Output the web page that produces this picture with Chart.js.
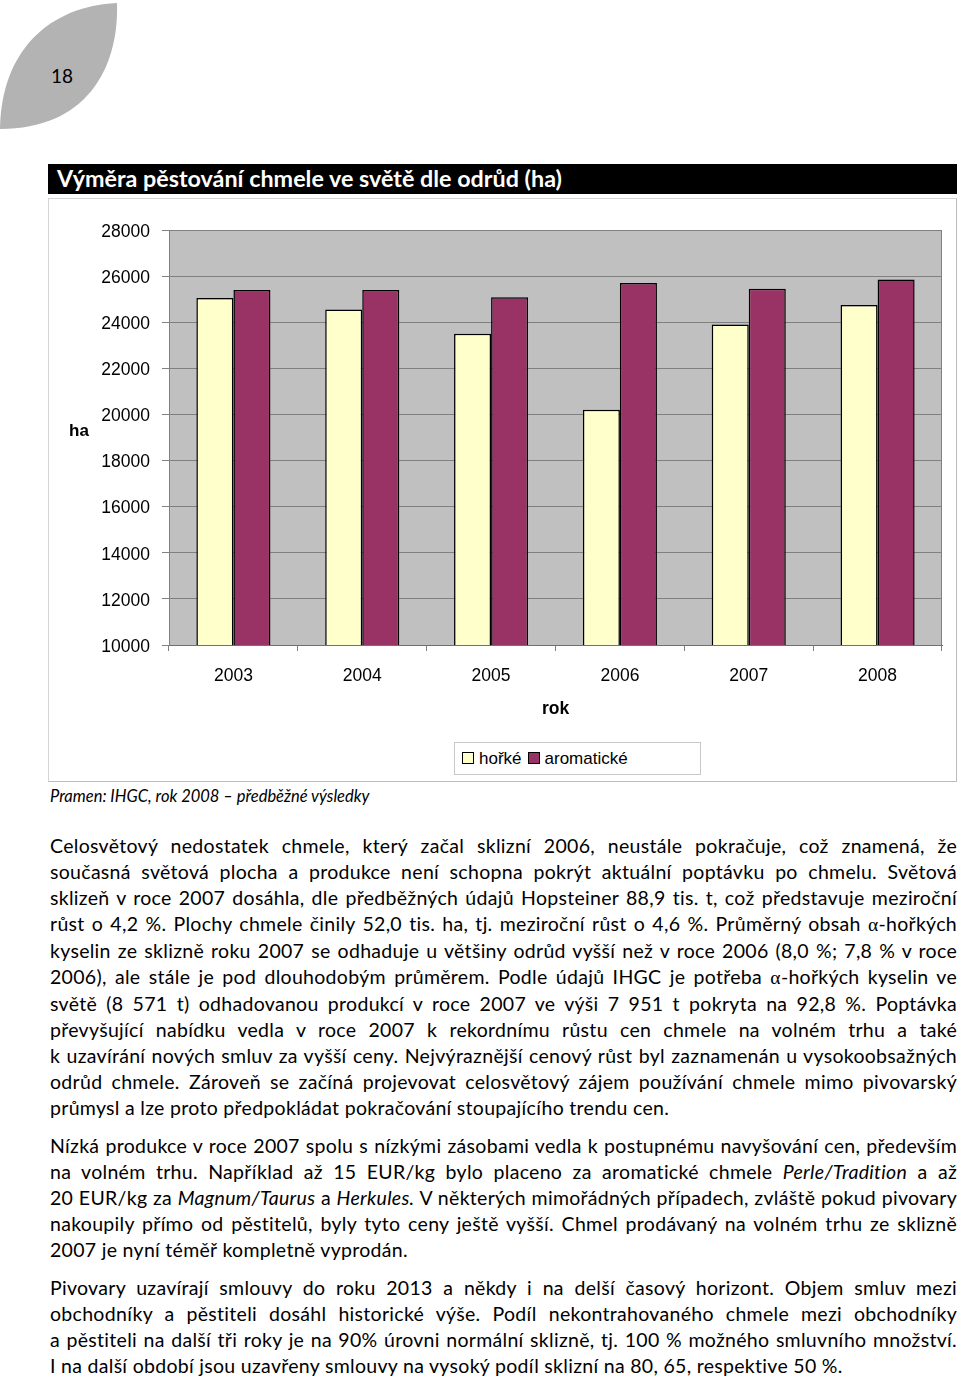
<!DOCTYPE html>
<html>
<head>
    <meta charset="utf-8">
    <title>Výměra pěstování chmele</title>
    <script src="https://cdn.jsdelivr.net/npm/chart.js@4.4.0/dist/chart.umd.min.js"></script>
    <style>
        body {
            margin: 0;
            width: 960px;
            height: 1379px;
            position: relative;
            background: #fff;
            font-family: Lato, "Open Sans", sans-serif;
            color: #000;
        }
        .leaf { position: absolute; left: 0; top: 0; }
        .page-no {
            position: absolute; left: 51px; top: 64px; width: 22px;
            font-size: 19px; text-align: center;
        }
        .title-bar {
            position: absolute; left: 48px; top: 164px; width: 909px; height: 30px;
            background: #000; color: #fff;
        }
        .title-bar span {
            position: absolute; left: 9px; top: 0px;
            font-size: 23px; font-weight: bold; white-space: nowrap; transform-origin: 0 50%;
        }
        .frame {
            position: absolute; left: 48px; top: 198px; width: 907px; height: 582px;
            border: 1px solid #d4d4d4;
            border-right-color: #bdbdbd; border-bottom-color: #bdbdbd;
        }
        #hopChart { position: absolute; left: 0; top: 0; }
        .ha {
            position: absolute; left: 20px; top: 222px;
            font: bold 17px "Liberation Sans", Arial, sans-serif;
        }
        .legend {
            position: absolute; left: 405px; top: 543px; width: 247px; height: 33px;
            border: 1px solid #c8c8c8; background: #fff;
            font: 17px "Liberation Sans", Arial, sans-serif;
            display: flex; align-items: center; padding-left: 7px; box-sizing: border-box;
        }
        .legend i {
            display: inline-block; width: 10px; height: 10px; border: 1px solid #000;
            margin-right: 5px; margin-top: -2px; vertical-align: middle;
        }
        .legend .item { margin-right: 6px; white-space: nowrap; }
        .source {
            position: absolute; left: 50px; top: 786px;
            font-size: 16.5px; font-style: italic; white-space: nowrap;
        }
        .text {
            position: absolute; left: 50px; top: 833px; width: 907px;
            font-size: 19.5px; line-height: 26px; letter-spacing: 0.3px;
        }
        .text .l { white-space: nowrap; text-align: left; }
        .text .j { text-align: justify; text-align-last: justify; }
        .text .gap { margin-bottom: 12px; }
        .a { font-family: "Liberation Serif", serif; }
    </style>
</head>
<body>
    <svg class="leaf" width="130" height="135">
        <path d="M0,129 C1,50 50,6 117,3 C119,70 85,129 0,129 Z" fill="#b3b3b3"/>
    </svg>
    <div class="page-no">18</div>

    <div class="title-bar"><span id="titleText">Výměra pěstování chmele ve světě dle odrůd (ha)</span></div>

    <div class="frame">
        <canvas id="hopChart" width="907" height="582"></canvas>
        <div class="ha">ha</div>
        <div class="legend" id="legend"></div>
    </div>

    <div class="source">Pramen: IHGC, rok 2008 – předběžné výsledky</div>

    <div class="text">
        <div class="l j">Celosvětový nedostatek chmele, který začal sklizní 2006, neustále pokračuje, což znamená, že</div>
        <div class="l j">současná světová plocha a produkce není schopna pokrýt aktuální poptávku po chmelu. Světová</div>
        <div class="l j">sklizeň v roce 2007 dosáhla, dle předběžných údajů Hopsteiner 88,9 tis. t, což představuje meziroční</div>
        <div class="l j">růst o 4,2 %. Plochy chmele činily 52,0 tis. ha, tj. meziroční růst o 4,6 %. Průměrný obsah <span class="a">α</span>-hořkých</div>
        <div class="l j">kyselin ze sklizně roku 2007 se odhaduje u většiny odrůd vyšší než v roce 2006 (8,0 %; 7,8 % v roce</div>
        <div class="l j">2006), ale stále je pod dlouhodobým průměrem. Podle údajů IHGC je potřeba <span class="a">α</span>-hořkých kyselin ve</div>
        <div class="l j">světě (8 571 t) odhadovanou produkcí v roce 2007 ve výši 7 951 t pokryta na 92,8 %. Poptávka</div>
        <div class="l j">převyšující nabídku vedla v roce 2007 k rekordnímu růstu cen chmele na volném trhu a také</div>
        <div class="l j">k uzavírání nových smluv za vyšší ceny. Nejvýraznější cenový růst byl zaznamenán u vysokoobsažných</div>
        <div class="l j">odrůd chmele. Zároveň se začíná projevovat celosvětový zájem používání chmele mimo pivovarský</div>
        <div class="l gap">průmysl a lze proto předpokládat pokračování stoupajícího trendu cen.</div>

        <div class="l j">Nízká produkce v roce 2007 spolu s nízkými zásobami vedla k postupnému navyšování cen, především</div>
        <div class="l j">na volném trhu. Například až 15 EUR/kg bylo placeno za aromatické chmele <i>Perle/Tradition</i> a až</div>
        <div class="l j">20 EUR/kg za <i>Magnum/Taurus</i> a <i>Herkules.</i> V některých mimořádných případech, zvláště pokud pivovary</div>
        <div class="l j">nakoupily přímo od pěstitelů, byly tyto ceny ještě vyšší. Chmel prodávaný na volném trhu ze sklizně</div>
        <div class="l gap">2007 je nyní téměř kompletně vyprodán.</div>

        <div class="l j">Pivovary uzavírají smlouvy do roku 2013 a někdy i na delší časový horizont. Objem smluv mezi</div>
        <div class="l j">obchodníky a pěstiteli dosáhl historické výše. Podíl nekontrahovaného chmele mezi obchodníky</div>
        <div class="l j">a pěstiteli na další tři roky je na 90% úrovni normální sklizně, tj. 100 % možného smluvního množství.</div>
        <div class="l">I na další období jsou uzavřeny smlouvy na vysoký podíl sklizní na 80, 65, respektive 50 %.</div>
    </div>

    <script>
    // hodnoty (ha)
    const years = ['2003', '2004', '2005', '2006', '2007', '2008'];
    const horke = [25050, 24550, 23500, 20200, 23900, 24750];
    const aromaticke = [25400, 25400, 25080, 25700, 25450, 25850];
    const seriesNames = ['hořké', 'aromatické'];
    const seriesColors = ['#ffffcc', '#993366'];
    const yMin = 10000, yMax = 28000, yStep = 2000;

    Chart.defaults.font.family = 'Liberation Sans, Arial, sans-serif';
    const axisFont = { family: 'Liberation Sans, Arial, sans-serif', size: 17.5 };

    // titulek zúžit na šířku jako v předloze
    const titleEl = document.getElementById('titleText');
    titleEl.style.transform = 'scaleX(' + (505 / titleEl.getBoundingClientRect().width) + ')';

    // šedé pozadí plochy grafu
    const plotBackground = {
        id: 'plotBackground',
        beforeDraw(chart) {
            const { ctx, chartArea: a } = chart;
            ctx.save();
            ctx.fillStyle = '#c0c0c0';
            ctx.fillRect(a.left, a.top, a.right - a.left, a.bottom - a.top);
            ctx.strokeStyle = '#808080';
            ctx.lineWidth = 1;
            ctx.strokeRect(a.left + 0.5, a.top + 0.5, a.right - a.left - 1, a.bottom - a.top);
            ctx.restore();
        }
    };

    const ctx = document.getElementById('hopChart').getContext('2d');
    new Chart(ctx, {
        type: 'bar',
        data: {
            labels: years,
            datasets: [
                {
                    label: seriesNames[0],
                    data: horke,
                    backgroundColor: seriesColors[0],
                    borderColor: '#000',
                    borderWidth: 1.5
                },
                {
                    label: seriesNames[1],
                    data: aromaticke,
                    backgroundColor: seriesColors[1],
                    borderColor: '#000',
                    borderWidth: 1.5
                }
            ]
        },
        options: {
            responsive: false,
            animation: false,
            devicePixelRatio: 1,
            categoryPercentage: 0.575,
            barPercentage: 1,
            layout: { padding: { left: 0, right: 14, top: 31, bottom: 56 } },
            plugins: {
                legend: { display: false },
                tooltip: { enabled: false }
            },
            scales: {
                x: {
                    grid: { drawOnChartArea: false, color: '#808080', tickLength: 6 },
                    border: { color: '#707070' },
                    ticks: { color: '#000', font: axisFont, padding: 15 },
                    title: {
                        display: true, text: 'rok', color: '#000',
                        font: { ...axisFont, weight: 'bold' },
                        padding: { top: 0, bottom: 5 }
                    },
                    afterFit(scale) { scale.height = 80; }
                },
                y: {
                    min: yMin,
                    max: yMax,
                    ticks: {
                        stepSize: yStep, color: '#000', font: axisFont, padding: 12,
                        labelOffset: 2,
                        callback: v => String(v)
                    },
                    grid: { color: '#808080', tickLength: 7 },
                    border: { color: '#808080' },
                    afterFit(scale) { scale.width = 120; }
                }
            }
        },
        plugins: [plotBackground]
    });

    // legenda
    const legend = document.getElementById('legend');
    seriesNames.forEach((name, i) => {
        const item = document.createElement('span');
        item.className = 'item';
        item.innerHTML = '<i style="background:' + seriesColors[i] + '"></i>' + name;
        legend.appendChild(item);
    });
    </script>
</body>
</html>
